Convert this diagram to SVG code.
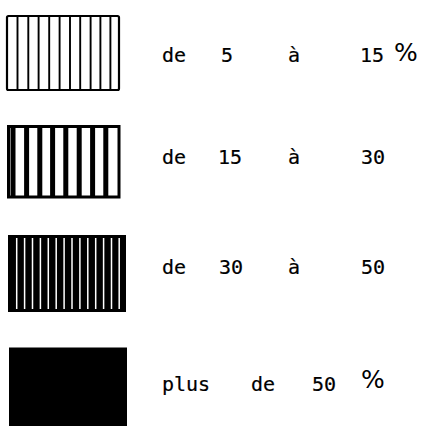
<svg xmlns="http://www.w3.org/2000/svg" width="430" height="428" viewBox="0 0 430 428">
<style>
  .lbl { font-family: "DejaVu Sans Mono", "Liberation Mono", monospace; font-size: 20px; fill: #000; stroke: #000; stroke-width: 0.2px; }
  .pct { font-family: "DejaVu Sans", "Liberation Sans", sans-serif; font-size: 25px; stroke-width: 0; }
  .frame { fill: #fff; stroke: #000; }
  .ink { stroke: #000; fill: none; }
  .wline { stroke: #fff; fill: none; }
</style>
<rect width="430" height="428" fill="#fff"/>

<g id="item-5-15">
  <rect class="frame" x="7" y="16" width="112" height="74" stroke-width="2.2" rx="1.5"/>
  <path class="ink" stroke-width="1.9" d="M17.5 16V90 M28.3 16V90 M38.6 16V90 M49.2 16V90 M59.6 16V90 M70 16V90 M80.2 16V90 M90.6 16V90 M100.4 16V90 M110.4 16V90"/>
  <text class="lbl" x="162" y="62">de</text>
  <text class="lbl" x="221" y="62">5</text>
  <text class="lbl" x="288" y="62">à</text>
  <text class="lbl" x="360" y="62">15</text>
  <text class="lbl pct" x="394" y="61">%</text>
</g>

<g id="item-15-30">
  <rect class="frame" x="8.5" y="126.5" width="110.5" height="70.5" stroke-width="3"/>
  <path class="ink" stroke-width="5" d="M13 126V198 M26.6 126V198 M39.8 126V198 M52.6 126V198 M65.8 126V198 M79.2 126V198 M92.6 126V198 M105.8 126V198"/>
  <text class="lbl" x="162" y="164">de</text>
  <text class="lbl" x="218" y="164">15</text>
  <text class="lbl" x="288" y="164">à</text>
  <text class="lbl" x="361" y="164">30</text>
</g>

<g id="item-30-50">
  <rect x="8" y="235" width="118" height="77" fill="#000"/>
  <path class="wline" stroke-width="1.5" d="M16.7 238V309 M24.6 238V309 M32.5 238V309 M40.4 238V309 M48.3 238V309 M56.2 238V309 M64.1 238V309 M72 238V309 M79.9 238V309 M87.8 238V309 M95.7 238V309 M103.6 238V309 M111.5 238V309 M119.2 238V309"/>
  <text class="lbl" x="162" y="274">de</text>
  <text class="lbl" x="219" y="274">30</text>
  <text class="lbl" x="288" y="274">à</text>
  <text class="lbl" x="361" y="274">50</text>
</g>

<g id="item-plus-50">
  <rect x="9" y="347.5" width="118" height="78.5" fill="#000"/>
  <text class="lbl" x="162" y="391">plus</text>
  <text class="lbl" x="251" y="391">de</text>
  <text class="lbl" x="312" y="391">50</text>
  <text class="lbl pct" x="361" y="388">%</text>
</g>
</svg>
